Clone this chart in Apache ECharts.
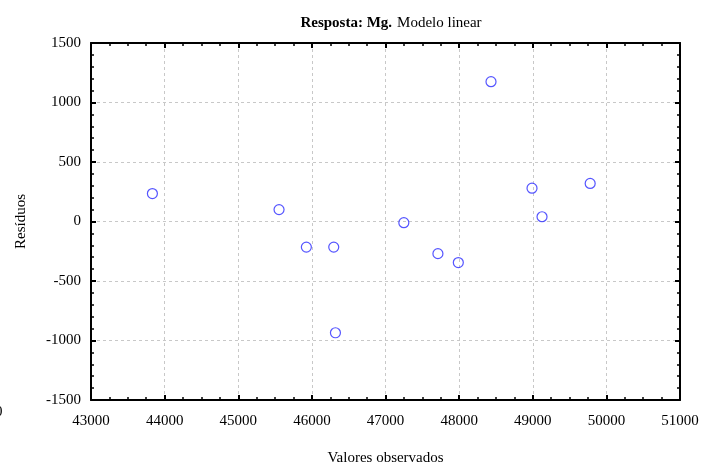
<!DOCTYPE html>
<html>
<head>
<meta charset="utf-8">
<script src="https://cdn.jsdelivr.net/npm/echarts@6/dist/echarts.min.js"></script>
<style>
  html, body { margin: 0; padding: 0; background: #fff; }
  #chart { width: 721px; height: 471px; }
</style>
</head>
<body>
<div id="chart"></div>
<script>
// Observed Mg values and residuals of the linear model
const observed = [43834, 45554, 45925, 46297, 46320, 47249, 47712, 47989, 48433, 48990, 49126, 49780];
const residuals = [235, 100, -215, -215, -935, -10, -270, -345, 1175, 280, 40, 320];

const xTicks = { min: 43000, max: 51000, interval: 1000 };
const yTicks = { min: -1500, max: 1500, interval: 500 };

const FONT = '"Liberation Serif", "Times New Roman", serif';
const FS = 15;

const points = observed.map((v, i) => [v, residuals[i]]);

const chart = echarts.init(document.getElementById('chart'), null, { renderer: 'canvas' });

// Box axes with inward major and minor ticks
function ticks(minorSplits) {
  return {
    axisLine: { show: true, onZero: false, lineStyle: { color: '#000', width: 2 } },
    axisTick: { show: true, inside: true, length: 5, lineStyle: { color: '#000', width: 2 } },
    minorTick: { show: true, splitNumber: minorSplits, length: 3, lineStyle: { color: '#000', width: 1.5 } }
  };
}

const plain = v => String(v);
const gridLine = { show: true, lineStyle: { color: '#c8c8c8', type: [3, 3], width: 1 } };

chart.setOption({
  backgroundColor: '#fff',
  animation: false,
  title: {
    text: '{b|Resposta: Mg.} {n|Modelo linear}',
    left: 386,
    textAlign: 'center',
    top: 9,
    textStyle: {
      fontWeight: 'normal',
      rich: {
        b: { fontFamily: FONT, fontSize: 15, fontWeight: 'bold', color: '#000' },
        n: { fontFamily: FONT, fontSize: 15, fontWeight: 'normal', color: '#000' }
      }
    }
  },
  grid: { left: 91, right: 41, top: 43, bottom: 71 },
  xAxis: [
    Object.assign({
      type: 'value', position: 'bottom',
      min: xTicks.min, max: xTicks.max, interval: xTicks.interval,
      name: 'Valores observados', nameLocation: 'middle', nameGap: 51,
      nameTextStyle: { fontFamily: FONT, fontSize: FS, color: '#000' },
      axisLabel: { fontFamily: FONT, fontSize: FS, color: '#000', margin: 14, formatter: plain },
      splitLine: gridLine
    }, ticks(4)),
    Object.assign({
      type: 'value', position: 'top',
      min: xTicks.min, max: xTicks.max, interval: xTicks.interval,
      axisLabel: { show: false },
      splitLine: { show: false }
    }, ticks(4))
  ],
  yAxis: [
    Object.assign({
      type: 'value', position: 'left',
      min: yTicks.min, max: yTicks.max, interval: yTicks.interval,
      name: 'Resíduos', nameLocation: 'middle', nameGap: 62,
      nameTextStyle: { fontFamily: FONT, fontSize: FS, color: '#000' },
      axisLabel: { fontFamily: FONT, fontSize: FS, color: '#000', margin: 10, formatter: plain },
      splitLine: gridLine
    }, ticks(5)),
    Object.assign({
      type: 'value', position: 'right',
      min: yTicks.min, max: yTicks.max, interval: yTicks.interval,
      axisLabel: { show: false },
      splitLine: { show: false }
    }, ticks(5))
  ],
  series: [{
    type: 'scatter',
    xAxisIndex: 0,
    yAxisIndex: 0,
    data: points,
    symbol: 'circle',
    symbolSize: 10,
    itemStyle: { color: 'rgba(0,0,0,0)', borderColor: '#2a2aff', borderWidth: 1.2 }
  }],
  graphic: [{
    type: 'text',
    left: -5,
    top: 405,
    style: { text: '0', font: FS + 'px ' + FONT, fill: '#000' }
  }]
});
</script>
</body>
</html>
